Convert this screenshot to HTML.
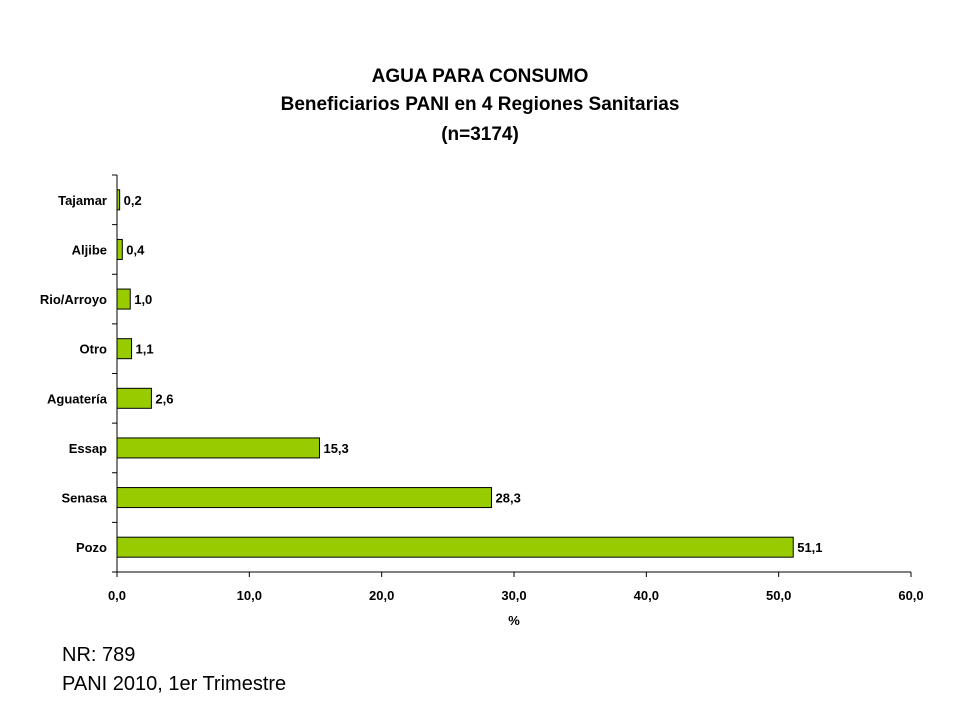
<!DOCTYPE html>
<html><head><meta charset="utf-8"><style>
body{margin:0;background:#fff;width:960px;height:720px;overflow:hidden;font-family:"Liberation Sans",Arial,sans-serif}
.t{position:absolute;left:0;width:960px;text-align:center;font-weight:bold;font-size:19px;color:#000}
.f{position:absolute;left:62px;font-size:20px;color:#000}
</style></head><body>
<div class="t" style="top:66px">AGUA PARA CONSUMO</div>
<div class="t" style="top:94px">Beneficiarios PANI en 4 Regiones Sanitarias</div>
<div class="t" style="top:124px">(n=3174)</div>
<svg id="c" width="960" height="720" style="position:absolute;left:0;top:0" font-family="Liberation Sans, Arial, sans-serif"></svg>
<div class="f" style="top:644px">NR: 789</div>
<div class="f" style="top:673px">PANI 2010, 1er Trimestre</div>
<script>
const categories=["Tajamar","Aljibe","Rio/Arroyo","Otro","Aguatería","Essap","Senasa","Pozo"];
const values=[0.2,0.4,1.0,1.1,2.6,15.3,28.3,51.1];
const valueLabels=["0,2","0,4","1,0","1,1","2,6","15,3","28,3","51,1"];
const ticks=[0,10,20,30,40,50,60];
const tickLabels=["0,0","10,0","20,0","30,0","40,0","50,0","60,0"];
const svg=document.getElementById('c');const NS='http://www.w3.org/2000/svg';
const X0=117,X1=911,Y0=175,Y1=572,XMAX=60;
const x=v=>X0+(v/XMAX)*(X1-X0);
const band=(Y1-Y0)/categories.length;
const yc=i=>Y0+band*(i+0.5);
function mk(t,a){const e=document.createElementNS(NS,t);for(const k in a)e.setAttribute(k,a[k]);svg.appendChild(e);return e;}
let ax=mk('line',{x1:X0,y1:Y0,x2:X0,y2:Y1,stroke:'#000','stroke-width':1});


let bx=mk('line',{x1:X0,y1:Y1,x2:X1,y2:Y1,stroke:'#000','stroke-width':1});


for(let i=0;i<=categories.length;i++){const y=Y0+band*i;let t=mk('line',{x1:X0-5,y1:y,x2:X0,y2:y,stroke:'#000'});

}
ticks.forEach((v,i)=>{let t=mk('line',{x1:x(v),y1:Y1,x2:x(v),y2:Y1+5,stroke:'#000'});


let l=mk('text',{x:x(v),y:Y1+28,'text-anchor':'middle','font-size':13,'font-weight':'bold'});l.textContent=tickLabels[i];

});
categories.forEach((c,i)=>{const y=yc(i);
let b=mk('rect',{x:X0,y:y-10,width:x(values[i])-X0,height:20,fill:'#99cc00',stroke:'#000','stroke-width':1});


let l=mk('text',{x:X0-10,y:y+5,'text-anchor':'end','font-size':13,'font-weight':'bold'});l.textContent=c;


let v=mk('text',{x:x(values[i])+4,y:y+5,'font-size':13,'font-weight':'bold'});v.textContent=valueLabels[i];

});
let xt=mk('text',{x:514,y:625,'text-anchor':'middle','font-size':13,'font-weight':'bold'});xt.textContent='%';


</script>
</body></html>
